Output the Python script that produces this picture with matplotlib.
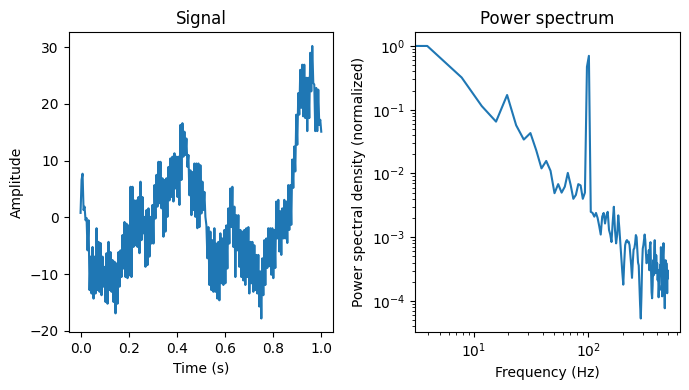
import numpy as np
import matplotlib
matplotlib.use("Agg")
import matplotlib.pyplot as plt

# signal (upper / lower edge pairs)
signal = [
    0.8, 6.6, 7.7, 1.3, 1.9, -0.5, -0.1, -5.8, -0.5, -12.8,
    -6.9, -13.4, -5.2, -14.3, -6.9, -13.4, -1.9, -12.8, -4.3, -13.1,
    -4.5, -13.7, -6.9, -12.2, -8.7, -14.9, -6.3, -15.2, -4.3, -12.8,
    -6.1, -13.1, -7.5, -14.9, -7.8, -16.9, -8.1, -15.2, -6.1, -12.2,
    -5.8, -10.5, -3.1, -9.0, -0.8, -10.5, -1.1, -10.7, -1.4, -10.2,
    5.4, -10.5, 5.4, -5.2, 3.0, -4.9,
    3.0, -5.2, 3.6, -6.3, 6.3, -4.0, 3.6, -2.8, 0.1, -8.7,
    1.3, -8.4, 1.6, -6.9, 0.1, -4.6, 2.2, -4.6, 5.7, -0.2,
    7.5, 1.9, 9.8, 2.5, 9.8, 1.6, 6.9, -3.4, 6.6, -2.5,
    6.9, 0.1, 8.9, 3.0, 10.4, 3.6, 10.7, 2.8, 11.3, 5.1,
    10.7, 3.6, 10.7, 2.2, 16.3, 6.6, 16.6, 10.7, 15.1, 11.0,
    13.9, 8.9, 11.0, 3.9, 8.3, 0.4, 8.0, 1.3, 9.5, 0.1,
    9.5, -1.9,
    9.5, -1.7, 9.2, 0.7, 6.3, 1.3, 4.5, 0.1, -1.4, -7.2,
    -1.7, -11.9, -2.5, -12.8, -4.0, -13.1, -1.9, -13.1, -4.6, -14.3,
    -4.3, -14.6, -2.8, -11.6, -3.7, -11.9, -2.2, -11.6, -1.4, -9.0,
    1.6, -4.6, 5.1, -1.7, 5.4, -5.2, 1.9, -10.5, 0.4, -5.8,
    0.4, -8.7, -2.2, -10.5, -2.5, -11.1, -2.2, -11.9, -1.9, -10.5,
    -1.7, -13.4, -4.3, -11.6, -4.3, -13.1, -4.9, -12.8,
    -6.6, -13.4, -6.6, -15.7, -9.5, -17.8, -7.2, -13.7, -4.0, -11.9,
    -3.7, -8.9, -1.9, -8.6, -1.9, -10.1, -1.9, -10.7, -2.2, -8.9,
    2.8, -3.7, 3.1, -6.0, 1.1, -6.6, 1.6, -3.7, 3.1, -3.7,
    2.8, -4.5, 5.7, -2.2, 5.7, -1.3, 10.2, 5.2, 12.5, 8.1,
    18.1, 12.8, 21.9, 18.1, 26.0, 19.3, 26.9, 17.8, 26.9, 17.5,
    24.6, 15.2, 24.6, 17.5, 29.0, 22.2, 30.2, 23.7, 23.4, 15.2,
    22.8, 15.2, 22.5, 16.3, 17.2, 15.1,
]
time = np.linspace(0, 1, len(signal))

# power spectrum (normalized), bins of fs / nperseg
fs = 1000
nperseg = 256
psd = [
    0.98, 1.0, 0.32, 0.114, 0.065, 0.17, 0.057, 0.034, 0.043, 0.023,
    0.012, 0.0157, 0.011, 0.0049, 0.0068, 0.0050, 0.0062, 0.0102, 0.0066, 0.0040,
    0.0046, 0.0068, 0.0065, 0.0040, 0.0050, 0.47, 0.70, 0.0025, 0.0024, 0.0021,
    0.0024, 0.0020, 0.0015, 0.0011, 0.0021, 0.0024, 0.00164, 0.0022, 0.0025, 0.0013,
    0.0011, 0.00084, 0.0017, 0.0030, 0.0013, 0.0008, 0.0011, 0.0022, 0.0014, 0.0008,
    0.00047, 0.00028, 0.00018, 0.0004, 0.00075, 0.00086, 0.0009, 0.00083, 0.00085, 0.00075,
    0.00053, 0.00036, 0.00023, 0.00041, 0.00064, 0.00067, 0.00080, 0.00108, 0.0010, 0.00063,
    0.0004, 0.00036, 0.00018, 8.6e-5, 5.3e-5, 0.00012, 0.00036, 0.00066, 0.00075, 0.0009,
    0.0011, 0.0009, 0.00058, 0.00039, 0.0004, 0.00052, 4.05e-4, 6.25e-4, 3.03e-4, 7.49e-4,
    8.35e-4, 3.03e-4, 1.37e-4, 1.10e-4, 1.76e-4, 4.35e-4, 2.53e-4, 6.25e-4, 8.97e-4, 4.68e-4,
    2.72e-4, 5.22e-4, 3.26e-4, 3.91e-4, 2.11e-4, 3.03e-4, 1.14e-4, 1.76e-4, 1.47e-4, 3.63e-4,
    2.53e-4, 6.97e-4, 4.68e-4, 3.03e-4, 1.18e-4, 4.05e-4, 5.82e-4, 8.05e-4, 2.53e-4, 1.76e-4,
    7.67e-5, 3.03e-4, 4.35e-4, 2.11e-4, 3.91e-4, 2.82e-4, 1.32e-4, 3.03e-4, 2.27e-4,
]
freqs = np.arange(len(psd)) * fs / nperseg

fig, (ax1, ax2) = plt.subplots(1, 2, figsize=(7, 4), dpi=100)

ax1.plot(time, signal)
ax1.set_title("Signal")
ax1.set_xlabel("Time (s)")
ax1.set_ylabel("Amplitude")

ax2.loglog(freqs, psd)
ax2.set_title("Power spectrum")
ax2.set_xlabel("Frequency (Hz)")
ax2.set_ylabel("Power spectral density (normalized)")

plt.tight_layout()
plt.savefig("out.png", bbox_inches="tight")
